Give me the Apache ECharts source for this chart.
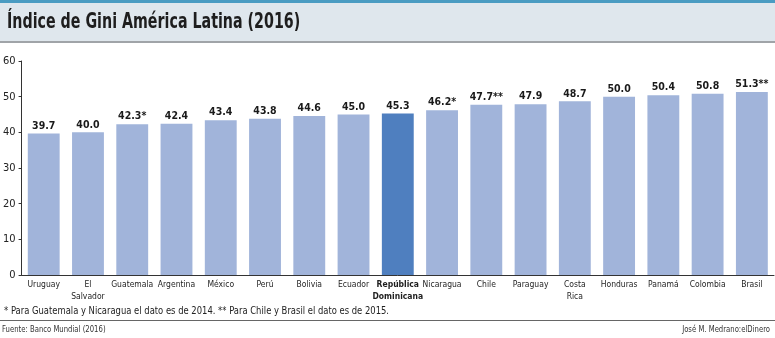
<!DOCTYPE html>
<html><head><meta charset="utf-8">
<script src="https://cdn.jsdelivr.net/npm/echarts@6/dist/echarts.min.js"></script>
<style>html,body{margin:0;padding:0;background:#fff}#c{width:775px;height:338px}</style>
</head><body><div id="c"></div>
<script>
const categories = ["Uruguay","El\nSalvador","Guatemala","Argentina","México","Perú","Bolivia","Ecuador","República\nDominicana","Nicaragua","Chile","Paraguay","Costa\nRica","Honduras","Panamá","Colombia","Brasil"];
const values = [39.7,40.0,42.3,42.4,43.4,43.8,44.6,45.0,45.3,46.2,47.7,47.9,48.7,50.0,50.4,50.8,51.3];
const valueSuffix = ["","","*","","","","","","","*","**","","","","","","**"];
const highlightIndex = 8;
const yTicks = {min:0, max:60, interval:10};
const titleText = "Índice de Gini América Latina (2016)";
const footnote = "* Para Guatemala y Nicaragua el dato es de 2014. ** Para Chile y Brasil el dato es de 2015.";
const source = "Fuente: Banco Mundial (2016)";
const credit = "José M. Medrano:elDinero";

const NARROW = "'Liberation Sans Narrow','DejaVu Sans Condensed',sans-serif";
const chart = echarts.init(document.getElementById('c'), null, {renderer:'canvas'});
chart.setOption({
  animation:false,
  grid:{left:18, right:1, top:61, bottom:63, containLabel:false},
  xAxis:{
    type:'category', data:categories,
    axisLine:{lineStyle:{color:'#333', width:1}},
    axisTick:{show:false},
    axisLabel:{
      interval:0, margin:4, fontFamily:NARROW, fontSize:8.5, lineHeight:12, color:'#1e1e1e',
      formatter:(v,i)=> i===highlightIndex ? '{b|'+v.replace('\n','}\n{b|')+'}' : v,
      rich:{b:{fontWeight:'bold', fontFamily:NARROW, fontSize:8.5, lineHeight:12, color:'#1e1e1e'}}
    }
  },
  yAxis:{
    type:'value', min:yTicks.min, max:yTicks.max, interval:yTicks.interval,
    axisLine:{show:true, lineStyle:{color:'#333', width:1}},
    axisTick:{show:true, length:3, lineStyle:{color:'#333'}},
    splitLine:{show:false},
    axisLabel:{margin:6, fontFamily:NARROW, fontSize:11, color:'#222'}
  },
  series:[{
    type:'bar', barCategoryGap:'28%',
    data: values.map((v,i)=>({value:v, itemStyle:{color: i===highlightIndex ? '#4f7fbf' : '#a1b4da'}})),
    label:{
      show:true, position:'top', distance:2,
      fontFamily:NARROW, fontWeight:'bold', fontSize:10.5, color:'#1a1a1a',
      formatter:p=> p.value.toFixed(1) + valueSuffix[p.dataIndex]
    }
  }],
  graphic:[
    {type:'rect', shape:{x:0,y:0,width:775,height:3}, style:{fill:'#4a9cc2'}, silent:true},
    {type:'rect', shape:{x:0,y:3,width:775,height:38}, style:{fill:'#dfe7ed'}, silent:true},
    {type:'rect', shape:{x:0,y:41,width:775,height:2}, style:{fill:'#a0a4a8'}, silent:true},
    {type:'text', x:7, y:11, scaleX:0.72, style:{text:titleText, fontFamily:NARROW, fontWeight:'bold', fontSize:22, fill:'#1e1e1e'}},
    {type:'text', x:4, y:306, scaleX:0.85, style:{text:footnote, fontFamily:NARROW, fontSize:11, fill:'#222'}},
    {type:'rect', shape:{x:0,y:320,width:775,height:1}, style:{fill:'#666'}, silent:true},
    {type:'text', x:2, y:325, scaleX:0.85, style:{text:source, fontFamily:NARROW, fontSize:9, fill:'#333'}},
    {type:'text', x:770, y:325, scaleX:0.85, style:{text:credit, align:'right', fontFamily:NARROW, fontSize:9, fill:'#333'}}
  ]
});
</script></body></html>
